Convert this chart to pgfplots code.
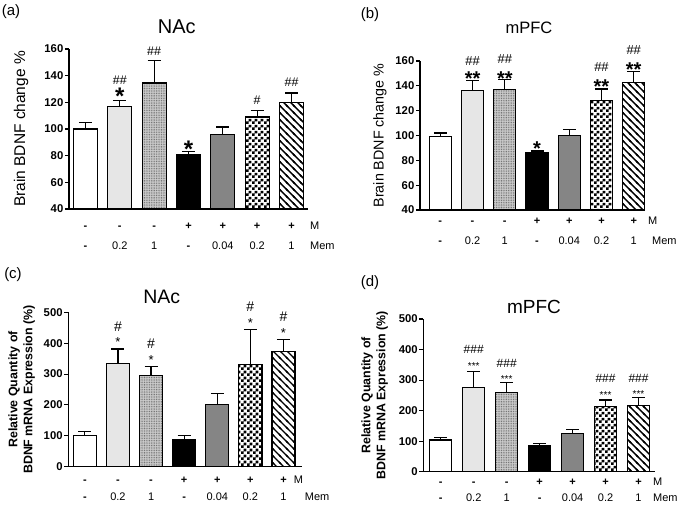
\documentclass[border=0pt]{standalone}
\usepackage{pgfplots}
\pgfplotsset{compat=1.18}
\usepackage{fontspec}
\setmainfont{Liberation Sans}
\usetikzlibrary{patterns}

\pgfdeclarepatternformonly{dotsA}{\pgfqpoint{-0.5pt}{-0.5pt}}{\pgfqpoint{2.5pt}{2.5pt}}{\pgfqpoint{2pt}{2pt}}{\pgfpathcircle{\pgfqpoint{0pt}{0pt}}{0.45pt}\pgfusepath{fill}}
\pgfdeclarepatternformonly{dotsB}{\pgfqpoint{-0.5pt}{-0.5pt}}{\pgfqpoint{2.2pt}{2.2pt}}{\pgfqpoint{1.7pt}{1.7pt}}{\pgfpathcircle{\pgfqpoint{0pt}{0pt}}{0.5pt}\pgfusepath{fill}}
\pgfdeclarepatternformonly{checker}{\pgfqpoint{0pt}{0pt}}{\pgfqpoint{5.6pt}{5.6pt}}{\pgfqpoint{5.6pt}{5.6pt}}{\pgfpathrectangle{\pgfqpoint{0pt}{0pt}}{\pgfqpoint{2.8pt}{2.8pt}}\pgfpathrectangle{\pgfqpoint{2.8pt}{2.8pt}}{\pgfqpoint{2.8pt}{2.8pt}}\pgfusepath{fill}}
\pgfdeclarepatternformonly{diagNW}{\pgfqpoint{-1pt}{-1pt}}{\pgfqpoint{8pt}{8pt}}{\pgfqpoint{7pt}{7pt}}{\pgfsetlinewidth{1.4pt}\pgfpathmoveto{\pgfqpoint{0pt}{7pt}}\pgfpathlineto{\pgfqpoint{7pt}{0pt}}\pgfpathmoveto{\pgfqpoint{-1pt}{1pt}}\pgfpathlineto{\pgfqpoint{1pt}{-1pt}}\pgfpathmoveto{\pgfqpoint{6pt}{8pt}}\pgfpathlineto{\pgfqpoint{8pt}{6pt}}\pgfusepath{stroke}}

\newcommand\sr{\rule{0pt}{9pt}}
\newcommand\mi{\textbf{-}}
\newcommand\pl{\textbf{+}}
\newcommand\fs[1]{\fontsize{#1}{#1}\selectfont}
\newcommand\ann[4]{\node[anchor=base,inner sep=0pt,#4] at (axis cs:#1,#2) {#3};}

\pgfplotsset{
 eb/.style={/pgfplots/error bars/y dir=plus, /pgfplots/error bars/y explicit,
   /pgfplots/error bars/error bar style={line width=1.2pt, black, solid},
   /pgfplots/error bars/error mark options={rotate=90, mark size=6.5pt, line width=1.2pt, black}},
 bA/.style={draw=black, line width=1.2pt, fill=white, eb},
 bB/.style={draw=black, line width=1.2pt, preaction={fill=black!6}, pattern=dotsA, pattern color=black!50, eb},
 bC/.style={draw=black, line width=1.2pt, preaction={fill=black!20}, pattern=dotsB, pattern color=black!60, eb},
 bD/.style={draw=black, line width=1.2pt, fill=black, eb},
 bE/.style={draw=black, line width=1.2pt, fill=black!48, eb},
 bF/.style={draw=black, line width=1.2pt, preaction={fill=white}, pattern=checker, pattern color=black, eb},
 bG/.style={draw=black, line width=1.2pt, preaction={fill=white}, pattern=diagNW, pattern color=black, eb},
 panel/.style={
  scale only axis, anchor=south west, ybar, bar shift=0pt,
  axis lines=left, axis line style={-, line width=1.2pt},
  xtick={0,...,6},
  xticklabels={{\sr\mi\\\mi},{\sr\mi\\0.2},{\sr\mi\\1},{\sr\pl\\\mi},{\sr\pl\\0.04},{\sr\pl\\0.2},{\sr\pl\\1}},
  x tick style={draw=none}, y tick style={line width=1.1pt, black},
  tick align=outside, major tick length=4pt,
  /pgf/number format/assume math mode=true,
  yticklabel style={font=\bfseries\fontsize{11.3}{12}\selectfont, inner sep=1.5pt},
  xticklabel style={align=center, inner sep=0pt, anchor=north},
  clip=false,
 }
}

\begin{document}
\begin{tikzpicture}
\path[use as bounding box] (0,0) rectangle (685pt,505pt);

% ---------------- (a)
\begin{axis}[panel, at={(69pt,296pt)}, width=239pt, height=160pt,
  xmin=-0.48, xmax=6.48, ymin=40, ymax=160, ytick={40,60,...,160}, bar width=0.7,
  xticklabel style={font=\fontsize{11}{19.4}\selectfont, yshift=-7.6pt},
  ylabel={Brain BDNF change \%},
  ylabel style={at={(axis description cs:-0.2,0.5)}, anchor=center, font=\fs{15.5}}]
\addplot[bA] coordinates {(0,100) +- (0,5)};
\addplot[bB] coordinates {(1,117) +- (0,4.5)};
\addplot[bC] coordinates {(2,134.5) +- (0,17)};
\addplot[bD] coordinates {(3,81) +- (0,2)};
\addplot[bE] coordinates {(4,96) +- (0,5.5)};
\addplot[bF] coordinates {(5,109) +- (0,5)};
\addplot[bG] coordinates {(6,120) +- (0,7)};
\node[anchor=north west, inner sep=0pt, align=left, font=\fontsize{11}{19.4}\selectfont, xshift=2pt, yshift=-11.6pt] at (rel axis cs:1,0) {\sr M\\Mem};
\ann{1}{121.5}{\bfseries *}{font=\fs{24}, yshift=-3.7pt}
\ann{1}{121.5}{\#\#}{font=\fs{12.5}, yshift=16.2pt}
\ann{2}{151.5}{\#\#}{font=\fs{12.5}, yshift=4.5pt}
\ann{3}{83}{\bfseries *}{font=\fs{24}, yshift=-6pt}
\ann{5}{114}{\#}{font=\fs{12.5}, yshift=5.5pt}
\ann{6}{127}{\#\#}{font=\fs{12.5}, yshift=6.1pt}
\end{axis}

% ---------------- (b)
\begin{axis}[panel, at={(420pt,295pt)}, width=225pt, height=149pt,
  xmin=-0.63, xmax=6.35, ymin=40, ymax=160, ytick={40,60,...,160}, bar width=0.68,
  xticklabel style={font=\fontsize{11}{19.4}\selectfont, yshift=-1.6pt},
  ylabel={Brain BDNF change \%},
  ylabel style={at={(axis description cs:-0.178,0.5)}, anchor=center, font=\fs{14.3}}]
\addplot[bA] coordinates {(0,99) +- (0,3)};
\addplot[bB] coordinates {(1,136) +- (0,8)};
\addplot[bC] coordinates {(2,137) +- (0,8)};
\addplot[bD] coordinates {(3,86) +- (0,1.5)};
\addplot[bE] coordinates {(4,100) +- (0,5)};
\addplot[bF] coordinates {(5,128.5) +- (0,9)};
\addplot[bG] coordinates {(6,142.5) +- (0,9)};
\node[anchor=north west, inner sep=0pt, align=left, font=\fontsize{11}{19.4}\selectfont, xshift=3pt, yshift=-5.6pt] at (rel axis cs:1,0) {\sr M\\\hspace*{4pt}Mem};
\ann{1}{144}{\bfseries **}{font=\fs{20}, yshift=-5pt}
\ann{1}{144}{\#\#}{font=\fs{13}, yshift=15.3pt}
\ann{2}{145}{\bfseries **}{font=\fs{20}, yshift=-5.4pt}
\ann{2}{145}{\#\#}{font=\fs{13}, yshift=16.3pt}
\ann{3}{87.5}{\bfseries *}{font=\fs{20}, yshift=-4.8pt}
\ann{5}{137.5}{\bfseries **}{font=\fs{20}, yshift=-4.5pt}
\ann{5}{137.5}{\#\#}{font=\fs{13}, yshift=17.9pt}
\ann{6}{151.5}{\bfseries **}{font=\fs{20}, yshift=-4.8pt}
\ann{6}{151.5}{\#\#}{font=\fs{13}, yshift=17pt}
\end{axis}

% ---------------- (c)
\begin{axis}[panel, at={(68.3pt,38.3pt)}, width=233.4pt, height=154.4pt,
  xmin=-0.5, xmax=6.55, ymin=0, ymax=500, ytick={0,100,...,500}, bar width=0.7,
  xticklabel style={font=\fontsize{11}{17.1}\selectfont, yshift=-3.9pt},
  ylabel={Relative Quantity of\\BDNF mRNA Expression (\%)},
  ylabel style={at={(axis description cs:-0.2,0.5)}, anchor=center, align=center, font=\bfseries\fontsize{12.4}{15}\selectfont}]
\addplot[bA] coordinates {(0,102) +- (0,13)};
\addplot[bB] coordinates {(1,333) +- (0,48)};
\addplot[bC] coordinates {(2,295) +- (0,29)};
\addplot[bD] coordinates {(3,88) +- (0,12)};
\addplot[bE] coordinates {(4,202) +- (0,36)};
\addplot[bF] coordinates {(5,330) +- (0,114)};
\addplot[bG] coordinates {(6,372) +- (0,41)};
\node[anchor=north west, inner sep=0pt, align=left, font=\fontsize{11}{17.1}\selectfont, xshift=-8pt, yshift=-7.9pt] at (rel axis cs:1,0) {\sr M\\\hspace*{11pt}Mem};
\ann{1}{381}{*}{font=\fs{13}, yshift=2.1pt}
\ann{1}{381}{\#}{font=\fs{14}, yshift=18pt}
\ann{2}{324}{*}{font=\fs{13}, yshift=2.1pt}
\ann{2}{324}{\#}{font=\fs{14}, yshift=18pt}
\ann{5}{444}{*}{font=\fs{13}, yshift=2.1pt}
\ann{5}{444}{\#}{font=\fs{14}, yshift=18pt}
\ann{6}{413}{*}{font=\fs{13}, yshift=2.1pt}
\ann{6}{413}{\#}{font=\fs{14}, yshift=18pt}
\end{axis}

% ---------------- (d)
\begin{axis}[panel, at={(423.3pt,33.3pt)}, width=231.7pt, height=152.7pt,
  xmin=-0.53, xmax=6.5, ymin=0, ymax=500, ytick={0,100,...,500}, bar width=0.67,
  xticklabel style={font=\fontsize{11}{15.7}\selectfont, yshift=-0.6pt},
  ylabel={Relative Quantity of\\BDNF mRNA Expression (\%)},
  ylabel style={at={(axis description cs:-0.21,0.5)}, anchor=center, align=center, font=\bfseries\fontsize{12.4}{15}\selectfont}]
\addplot[bA] coordinates {(0,104) +- (0,8)};
\addplot[bB] coordinates {(1,275) +- (0,52)};
\addplot[bC] coordinates {(2,260) +- (0,31)};
\addplot[bD] coordinates {(3,84) +- (0,9)};
\addplot[bE] coordinates {(4,125) +- (0,13)};
\addplot[bF] coordinates {(5,213) +- (0,22)};
\addplot[bG] coordinates {(6,218) +- (0,24)};
\node[anchor=north west, inner sep=0pt, align=left, font=\fontsize{11}{15.7}\selectfont, xshift=-2pt, yshift=-4.6pt] at (rel axis cs:1,0) {\sr M\\Mem};
\ann{1}{327}{***}{font=\fs{10}, yshift=2pt}
\ann{1}{327}{\#\#\#}{font=\fs{12}, yshift=18pt}
\ann{2}{291}{***}{font=\fs{10}, yshift=0.3pt}
\ann{2}{291}{\#\#\#}{font=\fs{12}, yshift=15pt}
\ann{5}{235}{***}{font=\fs{10}, yshift=1.6pt}
\ann{5}{235}{\#\#\#}{font=\fs{12}, yshift=17.4pt}
\ann{6}{242}{***}{font=\fs{10}, yshift=0.3pt}
\ann{6}{242}{\#\#\#}{font=\fs{12}, yshift=15.7pt}
\end{axis}

% panel labels and titles
\node[font=\fs{15}] at (11pt,493pt) {(a)};
\node[font=\fs{15}] at (370pt,490pt) {(b)};
\node[font=\fs{15}] at (13pt,230pt) {(c)};
\node[font=\fs{15}] at (370pt,222pt) {(d)};
\node[font=\fs{20}] at (176.7pt,478pt) {NAc};
\node[font=\fs{16.5}] at (529pt,477pt) {mPFC};
\node[font=\fs{19.5}] at (161.7pt,208.3pt) {NAc};
\node[font=\fs{19}] at (534pt,198.3pt) {mPFC};
\end{tikzpicture}
\end{document}
